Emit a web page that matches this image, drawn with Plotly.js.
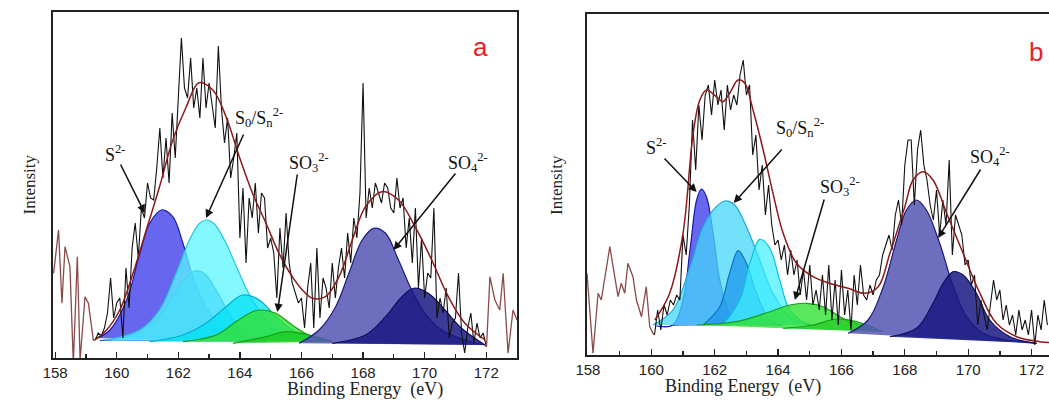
<!DOCTYPE html>
<html>
<head>
<meta charset="utf-8">
<script src="https://cdn.plot.ly/plotly-3.0.1.min.js"></script>
<style>html,body{margin:0;padding:0;background:#fff}#chart{width:1049px;height:411px}</style>
</head>
<body>
<div id="chart"></div>
<script>
// ---------- panel a ----------
const rawAStart = 159.3, rawAStep = 0.1;
const rawA = [18,25,22,30,45,80,40,55,60,20,90,50,110,135,100,150,140,175,160,158,190,230,180,220,175,245,200,260,320,270,260,300,250,270,240,300,250,275,250,230,312,250,215,240,180,200,225,120,170,95,160,140,175,125,165,160,110,120,105,60,130,90,145,95,75,65,55,60,30,70,95,30,110,40,80,70,50,95,60,90,110,80,125,95,140,120,165,275,140,170,150,175,165,155,175,170,150,145,180,150,160,110,140,95,150,70,120,60,85,80,150,40,60,45,70,20,35,40,85,25,5,30,45,15,35,20,25,12];
const edgeAx1 = [157.95,158.11,158.22,158.32,158.48,158.59,158.72,158.81,158.97,159.08,159.24,159.3];
const edgeAy1 = [84.7,128,54.7,111.3,91.3,-5,101.3,-2,61.3,54.7,18,18];
const edgeAx2 = [171.96,172.01,172.12,172.28,172.44,172.55,172.71,172.87,173.0];
const edgeAy2 = [13,11.3,81.3,58,48,84.7,4.7,48,38];
const envAx = [159.29,159.67,160.1,160.53,160.96,161.39,161.82,162.26,162.67,163.12,163.55,163.98,164.41,164.85,165.27,165.7,166.03,166.35,166.78,167.22,167.65,168.08,168.61,169.15,169.69,170.23,170.77,171.31,171.96];
const envAy = [18,28,48,84.7,128,171.3,218,251.3,275.3,268,241.3,201.3,164.7,134.7,104.7,81.3,68,59.7,61.3,81.3,118,151.3,166.3,158,131.3,98,61.3,34.7,18];
const compsA = [
  {name:'S2- a', color:'rgba(64,64,235,0.8)', line:'#1a1ab0',
   x:[159.35,159.78,160.32,160.75,161.07,161.45,161.82,162.15,162.47,162.9,163.55,164.3],
   y:[19.7,28,58,104.7,134.7,148,141.3,114.7,81.3,51.3,28,18]},
  {name:'S2- b', color:'rgba(30,150,235,0.8)', line:'#1070c0',
   x:[159.45,160.53,161.28,161.82,162.26,162.58,162.9,163.23,163.66,164.2,164.85],
   y:[17.3,23,38,61.3,81.3,87.3,83,68,44.7,24.7,16.3]},
  {name:'S0 a', color:'rgba(90,245,255,0.75)', line:'#20c8e0',
   x:[159.67,160.75,161.39,161.93,162.36,162.69,162.9,163.17,163.55,163.98,164.41,165.05,165.92],
   y:[18,28,48,84.7,118,134.7,138,134,114.7,84.7,58,31.3,18]},
  {name:'S0 b', color:'rgba(0,225,245,0.75)', line:'#00b0d0',
   x:[161.07,162.15,162.9,163.55,164.09,164.63,165.17,165.7,166.46],
   y:[16.3,23,34.7,51.3,63,58,41.3,28,18]},
  {name:'SO3 a', color:'rgba(50,225,50,0.8)', line:'#18a018',
   x:[162.15,163.23,163.87,164.41,164.73,165.17,165.7,166.24,167.0],
   y:[16.3,23,36.3,46.3,48,44.7,33,23,16.3]},
  {name:'SO3 b', color:'rgba(30,200,30,0.7)', line:'#18a018',
   x:[163.77,164.85,165.49,166.24,167.0],
   y:[14.7,21.3,26.3,23,16.3]},
  {name:'SO4 a', color:'rgba(85,85,180,0.85)', line:'#1a1a80',
   x:[165.92,166.57,167.11,167.54,167.97,168.35,168.73,169.15,169.58,170.01,170.55,171.31,171.96],
   y:[14.7,28,51.3,84.7,118,129.7,124.7,98,68,44.7,28,18,13]},
  {name:'SO4 b', color:'rgba(25,25,130,0.85)', line:'#101060',
   x:[167.0,168.08,168.73,169.26,169.64,170.12,170.66,171.2,171.96],
   y:[14.7,23,41.3,61.3,69.7,64.7,48,29.7,13]}
];

// ---------- panel b ----------
const rawBStart = 160.1, rawBStep = 0.1;
const rawB = [20,45,25,50,40,55,50,60,55,120,100,150,235,185,250,215,260,270,240,275,250,265,225,270,245,260,250,280,295,260,270,200,220,165,190,140,170,130,110,115,95,110,80,105,80,95,60,85,55,90,50,65,45,80,40,90,35,75,30,85,40,65,25,80,50,90,60,55,70,60,75,80,100,110,120,105,140,155,130,190,215,215,150,205,225,190,175,150,135,165,120,155,130,195,100,140,130,120,90,95,70,80,30,55,40,25,50,75,55,65,35,50,30,40,20,45,25,35,20,45,10,40,25,55,30];
const edgeBx = [157.97,158.16,158.32,158.42,158.69,158.84,158.95,159.05,159.16,159.26,159.42,159.53,159.69,159.84,159.95,160.05,160.1];
const edgeBy = [81.7,1.7,61.7,55,108.3,78.3,58.3,71.7,61.7,91.7,78.3,55,38.3,68.3,28.3,21.7,20];
const envBx = [160.11,160.58,161.0,161.32,161.53,161.74,162.05,162.26,162.47,162.74,162.95,163.21,163.53,163.84,164.16,164.58,165.1,165.63,166.21,166.74,167.16,167.53,168.0,168.26,168.58,168.89,169.32,169.84,170.37,170.89,171.53,172.26,172.6];
const envBy = [35,61.7,121.7,221.7,255,265,258.3,253.3,261.7,275,271.7,245,205,161.7,121.7,91.7,78.3,71.7,66.7,61.7,68.3,101.7,148.3,175,183.3,175,141.7,101.7,61.7,31.7,18.3,13.3,12.5];
const compsB = [
  {name:'S2- a', color:'rgba(64,64,235,0.8)', line:'#1a1ab0',
   x:[160.16,160.68,161.0,161.22,161.43,161.58,161.74,161.95,162.16,162.47,162.89],
   y:[29,30,55,105,155,166,158.3,121.7,75,41.7,30]},
  {name:'S0 a', color:'rgba(70,215,250,0.75)', line:'#1aa8d8',
   x:[160.05,160.68,161.22,161.63,162.05,162.32,162.63,163.0,163.42,163.84,164.37,165.1],
   y:[30,45,88.3,128.3,148.3,154,150,128.3,95,61.7,38.3,30]},
  {name:'S2- b', color:'rgba(30,150,235,0.75)', line:'#1070c0',
   x:[161.63,162.16,162.47,162.74,163.0,163.32,163.74,164.16],
   y:[30,48.3,81.7,104.3,91.7,61.7,35,29]},
  {name:'S0 b', color:'rgba(60,240,255,0.7)', line:'#10c0e0',
   x:[162.26,162.79,163.11,163.42,163.74,164.05,164.37,164.89],
   y:[30,55,91.7,115.7,106.7,75,45,31]},
  {name:'SO3 a', color:'rgba(50,225,50,0.8)', line:'#18a018',
   x:[161.43,162.68,163.74,164.37,164.89,165.42,165.95,166.58,167.21],
   y:[30,33.3,43.3,50,51.7,48.3,38.3,30,23.3]},
  {name:'SO3 b', color:'rgba(30,200,30,0.7)', line:'#18a018',
   x:[164.16,165.1,165.84,166.47,167.32],
   y:[26.7,30,36,33.3,23.3]},
  {name:'SO4 a', color:'rgba(85,85,180,0.85)', line:'#1a1a80',
   x:[166.21,166.84,167.32,167.74,168.05,168.37,168.68,169.1,169.53,169.95,170.47,171.21,172.16],
   y:[21.7,35,68.3,115,145,155,145,111.7,68.3,38.3,21.7,15,11.7]},
  {name:'SO4 b', color:'rgba(25,25,130,0.85)', line:'#101060',
   x:[167.53,168.37,168.89,169.21,169.53,169.84,170.26,170.68,171.32,172.16],
   y:[18.3,26.7,51.7,71.7,83.3,80,61.7,35,18.3,11.7]}
];

function grid(start, step, n) {
  const g = [];
  for (let i = 0; i < n; i++) g.push(+(start + i * step).toFixed(2));
  return g;
}

function compTraces(comps, xa, ya) {
  return comps.map(c => ({
    x: c.x, y: c.y, xaxis: xa, yaxis: ya, type: 'scatter', mode: 'lines',
    fill: 'toself', fillcolor: c.color, line: {color: c.line, width: 1.2, shape: 'spline'},
    hoverinfo: 'skip', showlegend: false
  }));
}

function line(x, y, color, width, xa, ya, shape) {
  return {x: x, y: y, xaxis: xa, yaxis: ya, type: 'scatter', mode: 'lines',
    line: {color: color, width: width, shape: shape || 'linear'}, showlegend: false};
}

const traces = [].concat(
  compTraces(compsA, 'x', 'y'),
  [line(grid(rawAStart, rawAStep, rawA.length), rawA, '#111', 1.1, 'x', 'y'),
   line(edgeAx1, edgeAy1, '#8a4a4a', 1.3, 'x', 'y'),
   line(edgeAx2, edgeAy2, '#8a4a4a', 1.3, 'x', 'y'),
   line(envAx, envAy, '#8b1a1a', 1.5, 'x', 'y', 'spline')],
  compTraces(compsB, 'x2', 'y2'),
  [line(grid(rawBStart, rawBStep, rawB.length), rawB, '#111', 1.1, 'x2', 'y2'),
   line(edgeBx, edgeBy, '#8a4a4a', 1.3, 'x2', 'y2'),
   line(envBx, envBy, '#8b1a1a', 1.5, 'x2', 'y2', 'spline')]
);

const serif = 'Liberation Serif';
const sans = 'Liberation Sans';

const xaxisBase = {
  dtick: 2, tick0: 158, ticks: 'inside', ticklen: 6, tickwidth: 1.3, tickcolor: '#222',
  minor: {dtick: 1, ticks: 'inside', ticklen: 4, tickcolor: '#222'},
  showline: true, linecolor: '#222', linewidth: 2, mirror: true,
  showgrid: false, zeroline: false, tickfont: {family: sans, size: 15, color: '#222'}
};
const yaxisBase = {
  showticklabels: false, ticks: '', showgrid: false, zeroline: false,
  showline: true, linecolor: '#222', linewidth: 2
};

function label(text, x, y, xa, ya) {
  return {text: text, x: x, y: y, xref: xa, yref: ya, showarrow: false,
    font: {family: serif, size: 18, color: '#111'}};
}
function arrow(x, y, tx, ty, xa, ya) {
  return {x: x, y: y, ax: tx, ay: ty, xref: xa, yref: ya, axref: xa, ayref: ya,
    text: '', showarrow: true, arrowhead: 2, arrowsize: 1.1, arrowwidth: 1.5, arrowcolor: '#111'};
}

const annotations = [
  label('S<sup>2-</sup>', 159.95, 205, 'x', 'y'),
  arrow(160.91, 145, 160.1, 195, 'x', 'y'),
  label('S<sub>0</sub>/S<sub>n</sub><sup>2-</sup>', 164.63, 240, 'x', 'y'),
  arrow(162.9, 140, 164.14, 225, 'x', 'y'),
  label('SO<sub>3</sub><sup>2-</sup>', 166.24, 196, 'x', 'y'),
  arrow(165.22, 46, 165.87, 185, 'x', 'y'),
  label('SO<sub>4</sub><sup>2-</sup>', 171.42, 196, 'x', 'y'),
  arrow(168.99, 108, 171.04, 186, 'x', 'y'),
  {text: 'a', x: 171.8, y: 311, xref: 'x', yref: 'y', showarrow: false, font: {family: sans, size: 26, color: '#e8202a'}},

  label('S<sup>2-</sup>', 160.16, 208, 'x2', 'y2'),
  arrow(161.43, 163, 160.37, 198, 'x2', 'y2'),
  label('S<sub>0</sub>/S<sub>n</sub><sup>2-</sup>', 164.68, 227, 'x2', 'y2'),
  arrow(162.6, 152, 164.16, 207, 'x2', 'y2'),
  label('SO<sub>3</sub><sup>2-</sup>', 165.95, 168, 'x2', 'y2'),
  arrow(164.53, 55, 165.47, 157, 'x2', 'y2'),
  label('SO<sub>4</sub><sup>2-</sup>', 170.68, 198, 'x2', 'y2'),
  arrow(169.05, 117, 170.42, 187, 'x2', 'y2'),
  {text: 'b', x: 172.13, y: 303, xref: 'x2', yref: 'y2', showarrow: false, font: {family: sans, size: 26, color: '#e8202a'}},

  {text: 'Intensity', x: 18 / 1049, y: 0.55, xref: 'paper', yref: 'paper', textangle: -90, showarrow: false, font: {family: serif, size: 17, color: '#222'}},
  {text: 'Intensity', x: 557 / 1049, y: 0.55, xref: 'paper', yref: 'paper', textangle: -90, showarrow: false, font: {family: serif, size: 17, color: '#222'}},
  {text: 'Binding Energy&nbsp;&nbsp;(eV)', x: 285 / 1049, y: 9 / 411, xref: 'paper', yref: 'paper', showarrow: false, font: {family: serif, size: 18, color: '#222'}},
  {text: 'Binding Energy&nbsp;&nbsp;(eV)', x: 823 / 1049, y: 12 / 411, xref: 'paper', yref: 'paper', showarrow: false, font: {family: serif, size: 18, color: '#222'}}
];

const layout = {
  width: 1049, height: 411,
  margin: {l: 0, r: 0, t: 0, b: 0},
  paper_bgcolor: '#fff', plot_bgcolor: '#fff',
  showlegend: false,
  xaxis: Object.assign({}, xaxisBase, {domain: [53 / 1049, 517 / 1049], range: [157.93, 173], anchor: 'y'}),
  yaxis: Object.assign({}, yaxisBase, {domain: [53 / 411, 399 / 411], range: [0, 346], anchor: 'x', mirror: true}),
  xaxis2: Object.assign({}, xaxisBase, {domain: [587 / 1049, 1], range: [157.97, 172.55], anchor: 'y2', mirror: true}),
  yaxis2: Object.assign({}, yaxisBase, {domain: [56 / 411, 397 / 411], range: [0, 341], anchor: 'x2'}),
  annotations: annotations
};

Plotly.newPlot('chart', traces, layout, {displayModeBar: false, staticPlot: true});
</script>
</body>
</html>
